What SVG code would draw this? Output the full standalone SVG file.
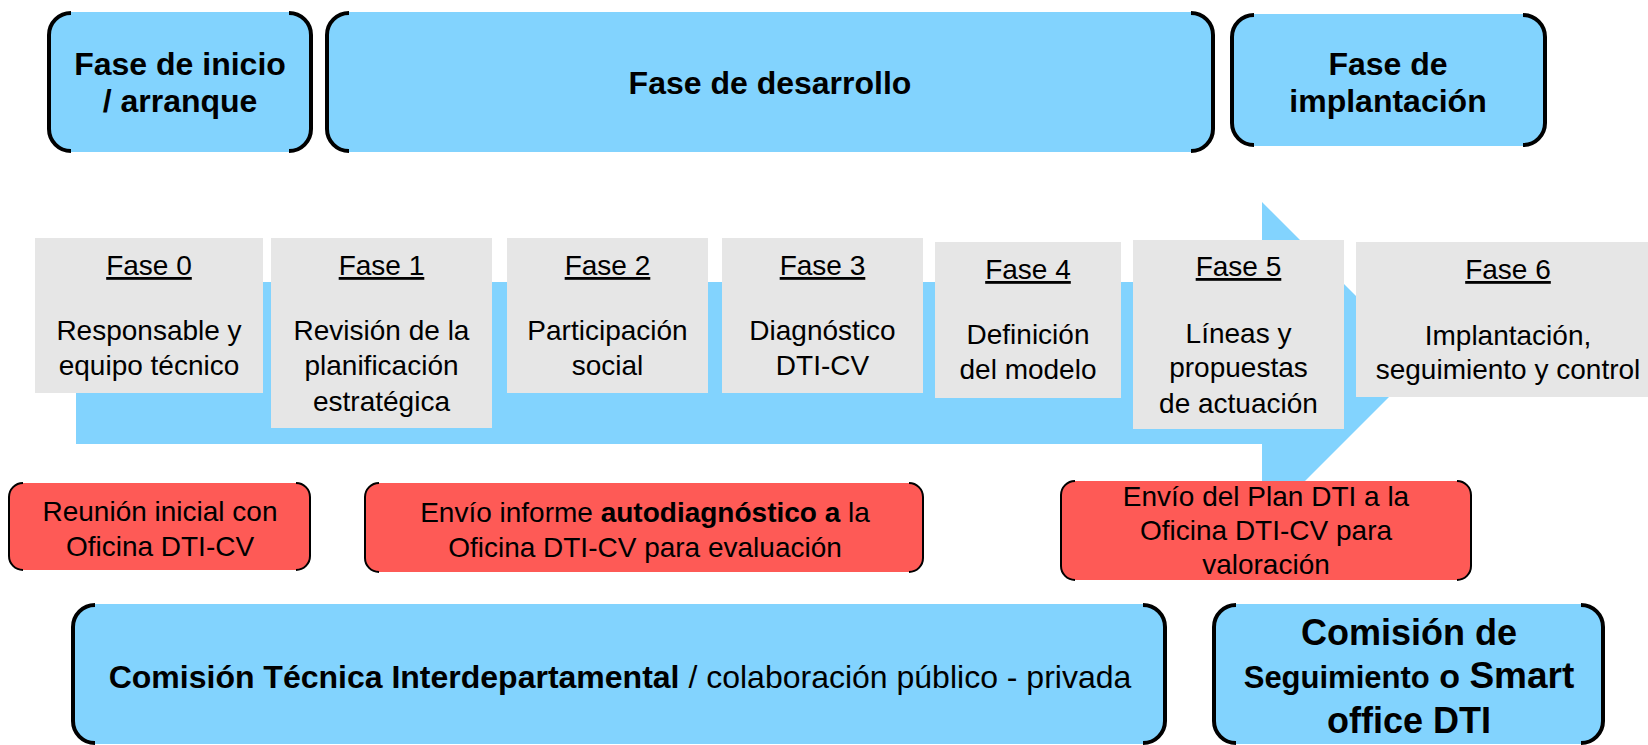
<svg xmlns="http://www.w3.org/2000/svg" width="1648" height="745" viewBox="0 0 1648 745">
<style>
text{font-family:"Liberation Sans",Arial,sans-serif;fill:#000;text-anchor:middle}
.blue{fill:#82D3FE}
.gray{fill:#E6E6E6}
.red{fill:#FE5A56}
.brk{fill:none;stroke:#000;stroke-width:4;stroke-linecap:butt}
.brk2{fill:none;stroke:#000;stroke-width:2}
.hd{font-size:32px;font-weight:bold}
.ph{font-size:28px}
.ph .t{text-decoration:underline}
.rd{font-size:28px}
</style>
<rect width="1648" height="745" fill="#fff"/>
<g id="connectors">
<polygon id="arrow" class="blue" points="76,282 1262,282 1262,202 1423,363 1262,524 1262,444 76,444"/>
</g>
<g id="fase-inicio">
<rect class="blue" x="48" y="12" width="264" height="140" rx="22"/>
<path class="brk" d="M71,13 A22 22 0 0 0 49,35 V129 A22 22 0 0 0 71,151 M289,13 A22 22 0 0 1 311,35 V129 A22 22 0 0 1 289,151"/>
<text class="hd" x="180" y="75">Fase de inicio</text>
<text class="hd" x="180" y="112">/ arranque</text>
</g>
<g id="fase-desarrollo">
<rect class="blue" x="326" y="12" width="888" height="140" rx="22"/>
<path class="brk" d="M349,13 A22 22 0 0 0 327,35 V129 A22 22 0 0 0 349,151 M1191,13 A22 22 0 0 1 1213,35 V129 A22 22 0 0 1 1191,151"/>
<text class="hd" x="770" y="94">Fase de desarrollo</text>
</g>
<g id="fase-implantacion">
<rect class="blue" x="1231" y="14" width="315" height="132" rx="22"/>
<path class="brk" d="M1254,15 A22 22 0 0 0 1232,37 V123 A22 22 0 0 0 1254,145 M1523,15 A22 22 0 0 1 1545,37 V123 A22 22 0 0 1 1523,145"/>
<text class="hd" x="1388" y="75">Fase de</text>
<text class="hd" x="1388" y="112">implantación</text>
</g>
<g id="fase0" class="ph">
<rect class="gray" x="35" y="238" width="228" height="155"/>
<text class="t" x="149" y="275">Fase 0</text>
<text x="149" y="340">Responsable y</text>
<text x="149" y="375">equipo técnico</text>
</g>
<g id="fase1" class="ph">
<rect class="gray" x="271" y="238" width="221" height="190"/>
<text class="t" x="381.5" y="275">Fase 1</text>
<text x="381.5" y="340">Revisión de la</text>
<text x="381.5" y="375">planificación</text>
<text x="381.5" y="411">estratégica</text>
</g>
<g id="fase2" class="ph">
<rect class="gray" x="507" y="238" width="201" height="155"/>
<text class="t" x="607.5" y="275">Fase 2</text>
<text x="607.5" y="340">Participación</text>
<text x="607.5" y="375">social</text>
</g>
<g id="fase3" class="ph">
<rect class="gray" x="722" y="238" width="201" height="155"/>
<text class="t" x="822.5" y="275">Fase 3</text>
<text x="822.5" y="340">Diagnóstico</text>
<text x="822.5" y="375">DTI-CV</text>
</g>
<g id="fase4" class="ph">
<rect class="gray" x="935" y="242" width="186" height="156"/>
<text class="t" x="1028" y="279">Fase 4</text>
<text x="1028" y="344">Definición</text>
<text x="1028" y="379">del modelo</text>
</g>
<g id="fase5" class="ph">
<rect class="gray" x="1133" y="240" width="211" height="189"/>
<text class="t" x="1238.5" y="276">Fase 5</text>
<text x="1238.5" y="343">Líneas y</text>
<text x="1238.5" y="377">propuestas</text>
<text x="1238.5" y="413">de actuación</text>
</g>
<g id="fase6" class="ph">
<rect class="gray" x="1356" y="242" width="292" height="155"/>
<text class="t" x="1508" y="279">Fase 6</text>
<text x="1508" y="345">Implantación,</text>
<text x="1508" y="379">seguimiento y control</text>
</g>
<g id="reunion" class="rd">
<rect class="red" x="9" y="483" width="301" height="87" rx="14"/>
<path class="brk2" d="M23,483 A14 14 0 0 0 9,497 V556 A14 14 0 0 0 23,570 M296,483 A14 14 0 0 1 310,497 V556 A14 14 0 0 1 296,570"/>
<text x="160" y="521">Reunión inicial con</text>
<text x="160" y="556">Oficina DTI-CV</text>
</g>
<g id="envio-informe" class="rd">
<rect class="red" x="365" y="483" width="558" height="89" rx="14"/>
<path class="brk2" d="M379,483 A14 14 0 0 0 365,497 V558 A14 14 0 0 0 379,572 M909,483 A14 14 0 0 1 923,497 V558 A14 14 0 0 1 909,572"/>
<text x="645" y="522">Envío informe <tspan font-weight="bold">autodiagnóstico a</tspan> la</text>
<text x="645" y="557">Oficina DTI-CV para evaluación</text>
</g>
<g id="envio-plan" class="rd">
<rect class="red" x="1061" y="481" width="410" height="99" rx="14"/>
<path class="brk2" d="M1075,481 A14 14 0 0 0 1061,495 V566 A14 14 0 0 0 1075,580 M1457,481 A14 14 0 0 1 1471,495 V566 A14 14 0 0 1 1457,580"/>
<text x="1266" y="506">Envío del Plan DTI a la</text>
<text x="1266" y="540">Oficina DTI-CV para</text>
<text x="1266" y="574">valoración</text>
</g>
<g id="comision-tecnica">
<rect class="blue" x="72" y="604" width="1094" height="140" rx="22"/>
<path class="brk" d="M95,605 A22 22 0 0 0 73,627 V721 A22 22 0 0 0 95,743 M1143,605 A22 22 0 0 1 1165,627 V721 A22 22 0 0 1 1143,743"/>
<text x="620" y="688" font-size="32px"><tspan font-weight="bold">Comisión Técnica Interdepartamental</tspan> / colaboración público - privada</text>
</g>
<g id="comision-seguimiento">
<rect class="blue" x="1213" y="604" width="391" height="140" rx="22"/>
<path class="brk" d="M1236,605 A22 22 0 0 0 1214,627 V721 A22 22 0 0 0 1236,743 M1581,605 A22 22 0 0 1 1603,627 V721 A22 22 0 0 1 1581,743"/>
<text x="1409" y="645" font-size="36px" font-weight="bold">Comisión de</text>
<text x="1409" y="688" font-weight="bold"><tspan font-size="31px">Seguimiento</tspan><tspan font-size="34px"> o </tspan><tspan font-size="37px">Smart</tspan></text>
<text x="1409" y="733" font-size="36px" font-weight="bold">office DTI</text>
</g>
</svg>
